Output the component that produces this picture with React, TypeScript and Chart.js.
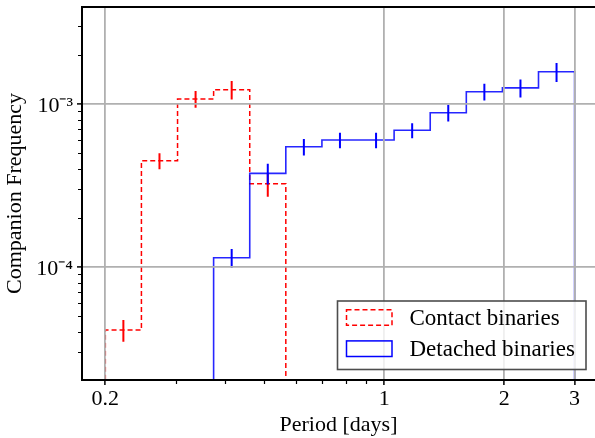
import React, { useEffect, useRef } from 'react';
import { Chart, registerables } from 'chart.js';

Chart.register(...registerables);

// ---- data ----
const binEdges = [0.2, 0.2463, 0.3034, 0.3736, 0.4602, 0.5667, 0.698, 0.8596, 1.0587, 1.304, 1.606, 1.978, 2.436, 3.0];

const contactFirstBin = 0;
const contactValues = [4.09e-5, 4.47e-4, 1.07e-3, 1.22e-3, 3.23e-4];
const contactErrors = [0.62e-5, 0.5e-4, 1.25e-4, 1.6e-4, 0.54e-4];

const detachedFirstBin = 3;
const detachedValues = [1.135e-4, 3.74e-4, 5.45e-4, 5.99e-4, 5.99e-4, 6.87e-4, 8.81e-4, 1.185e-3, 1.25e-3, 1.57e-3];
const detachedErrors = [1.5e-5, 5.5e-5, 6.3e-5, 6.5e-5, 6.5e-5, 7.3e-5, 1.03e-4, 1.4e-4, 1.6e-4, 2.1e-4];

const seriesLabels = ['Contact binaries', 'Detached binaries'];

const xTickValues = [0.2, 1, 2, 3];
const xTickLabels = ['0.2', '1', '2', '3'];
const xMinorTicks = [0.3, 0.4, 0.5, 0.6, 0.7, 0.8, 0.9];

const yTickValues = [1e-4, 1e-3];
const yTickLabels = ['10⁻⁴', '10⁻³'];
const yMinorTicks = [3e-5, 4e-5, 5e-5, 6e-5, 7e-5, 8e-5, 9e-5, 2e-4, 3e-4, 4e-4, 5e-4, 6e-4, 7e-4, 8e-4, 9e-4, 2e-3, 3e-3];

const X_MIN = 0.1748;
const X_MAX = 3.375;
const Y_MIN = 2.02e-5;
const Y_MAX = 3.92e-3;
const FLOOR = 1e-7;

const FONT_FAMILY = "'Liberation Serif', 'Times New Roman', serif";
const RED = '#ff0000';
const BLUE = '#0000ff';

function stepPoints(values: number[], firstBin: number) {
  const pts: { x: number; y: number }[] = [];
  pts.push({ x: binEdges[firstBin], y: FLOOR });
  values.forEach((v, i) => {
    pts.push({ x: binEdges[firstBin + i], y: v });
    pts.push({ x: binEdges[firstBin + i + 1], y: v });
  });
  pts.push({ x: binEdges[firstBin + values.length], y: FLOOR });
  return pts;
}

function errorPoints(values: number[], errors: number[], firstBin: number) {
  const pts: { x: number; y: number | null }[] = [];
  values.forEach((v, i) => {
    const c = Math.sqrt(binEdges[firstBin + i] * binEdges[firstBin + i + 1]);
    pts.push({ x: c, y: v - errors[i] });
    pts.push({ x: c, y: v + errors[i] });
    pts.push({ x: c, y: null });
  });
  return pts;
}

const decorPlugin = {
  id: 'decor',
  afterDraw(chart: any) {
    const { ctx, chartArea, scales } = chart;
    const xs = scales.x;
    const ys = scales.y;
    ctx.save();
    // top spine
    ctx.strokeStyle = '#000';
    ctx.lineWidth = 2;
    ctx.beginPath();
    ctx.moveTo(chartArea.left - 1, chartArea.top);
    ctx.lineTo(chartArea.right, chartArea.top);
    ctx.stroke();
    // minor ticks
    ctx.lineWidth = 1.2;
    ctx.beginPath();
    xMinorTicks.forEach((v) => {
      const px = Math.round(xs.getPixelForValue(v)) + 0.5;
      ctx.moveTo(px, chartArea.bottom);
      ctx.lineTo(px, chartArea.bottom + 4);
    });
    yMinorTicks.forEach((v) => {
      const py = Math.round(ys.getPixelForValue(v)) + 0.5;
      ctx.moveTo(chartArea.left, py);
      ctx.lineTo(chartArea.left - 4, py);
    });
    ctx.stroke();

    // legend
    const boxRight = chartArea.right - 9;
    const boxBottom = chartArea.bottom - 10.5;
    const boxW = 248.5;
    const boxH = 68.5;
    const boxL = boxRight - boxW;
    const boxT = boxBottom - boxH;
    ctx.fillStyle = 'rgba(255,255,255,0.8)';
    ctx.fillRect(boxL, boxT, boxW, boxH);
    ctx.strokeStyle = '#4d4d4d';
    ctx.lineWidth = 1.6;
    ctx.setLineDash([]);
    ctx.strokeRect(boxL, boxT, boxW, boxH);

    const rows = [
      { label: seriesLabels[0], color: RED, dash: [5, 3] },
      { label: seriesLabels[1], color: BLUE, dash: [] as number[] },
    ];
    ctx.font = `23px ${FONT_FAMILY}`;
    ctx.textBaseline = 'middle';
    ctx.textAlign = 'left';
    rows.forEach((r, i) => {
      const cy = boxT + 16.5 + i * 31.2;
      ctx.strokeStyle = r.color;
      ctx.lineWidth = 1.5;
      ctx.setLineDash(r.dash);
      ctx.strokeRect(boxL + 9, cy - 7.8, 45.5, 15.6);
      ctx.setLineDash([]);
      ctx.fillStyle = '#000';
      ctx.fillText(r.label, boxL + 72, cy + 1);
    });
    ctx.restore();
  },
};

export default function App() {
  const canvasRef = useRef<HTMLCanvasElement | null>(null);

  useEffect(() => {
    if (!canvasRef.current) return;
    const font = { family: FONT_FAMILY, size: 22 };
    const chart = new Chart(canvasRef.current, {
      type: 'line',
      data: {
        datasets: [
          {
            label: seriesLabels[1] + ' errors',
            data: errorPoints(detachedValues, detachedErrors, detachedFirstBin),
            borderColor: BLUE,
            borderWidth: 2,
            pointRadius: 0,
            spanGaps: false,
            order: 0,
          },
          {
            label: seriesLabels[1],
            data: stepPoints(detachedValues, detachedFirstBin),
            borderColor: 'rgba(0,0,255,0.85)',
            borderWidth: 1.6,
            pointRadius: 0,
            order: 1,
          },
          {
            label: seriesLabels[0] + ' errors',
            data: errorPoints(contactValues, contactErrors, contactFirstBin),
            borderColor: RED,
            borderWidth: 2,
            pointRadius: 0,
            spanGaps: false,
            order: 2,
          },
          {
            label: seriesLabels[0],
            data: stepPoints(contactValues, contactFirstBin),
            borderColor: RED,
            borderWidth: 1.5,
            borderDash: [5, 3],
            pointRadius: 0,
            order: 3,
          },
        ],
      },
      options: {
        animation: false,
        responsive: false,
        maintainAspectRatio: false,
        devicePixelRatio: 1,
        layout: { padding: { top: 7, right: 0, bottom: 0, left: 0 } },
        elements: { point: { radius: 0 }, line: { tension: 0 } },
        plugins: { legend: { display: false }, tooltip: { enabled: false } },
        scales: {
          x: {
            type: 'logarithmic',
            position: 'bottom',
            min: X_MIN,
            max: X_MAX,
            afterBuildTicks: (s: any) => {
              s.ticks = xTickValues.map((v) => ({ value: v }));
            },
            afterFit: (s: any) => {
              s.height = 58;
              s.paddingLeft = 0;
              s.paddingRight = 0;
            },
            grid: { color: '#b0b0b0', lineWidth: 1.8, tickColor: '#000', tickLength: 5, tickWidth: 1.5, z: 1 },
            border: { color: '#000', width: 2, z: 1 },
            ticks: {
              autoSkip: false,
              maxRotation: 0,
              minRotation: 0,
              padding: 1,
              color: '#000',
              font,
              callback: (_v: any, i: number) => xTickLabels[i],
            },
            title: { display: true, text: 'Period [days]', color: '#000', font, padding: { top: 0, bottom: 0 } },
          },
          y: {
            type: 'logarithmic',
            position: 'left',
            min: Y_MIN,
            max: Y_MAX,
            afterBuildTicks: (s: any) => {
              s.ticks = yTickValues.map((v) => ({ value: v }));
            },
            afterFit: (s: any) => {
              s.width = 82;
              s.paddingTop = 0;
              s.paddingBottom = 0;
            },
            grid: { color: '#b0b0b0', lineWidth: 1.8, tickColor: '#000', tickLength: 5, tickWidth: 1.5, z: 1 },
            border: { color: '#000', width: 2, z: 1 },
            ticks: {
              autoSkip: false,
              padding: 4,
              labelOffset: 2,
              color: '#000',
              font,
              callback: (_v: any, i: number) => yTickLabels[i],
            },
            title: { display: true, text: 'Companion Frequency', color: '#000', font, padding: { top: 2, bottom: 0 } },
          },
        },
      } as any,
      plugins: [decorPlugin],
    });
    return () => chart.destroy();
  }, []);

  return (
    <div style={{ position: 'fixed', left: 0, top: 0, width: 595, height: 438, background: '#fff' }}>
      <canvas ref={canvasRef} width={595} height={438} style={{ display: 'block' }} />
    </div>
  );
}
